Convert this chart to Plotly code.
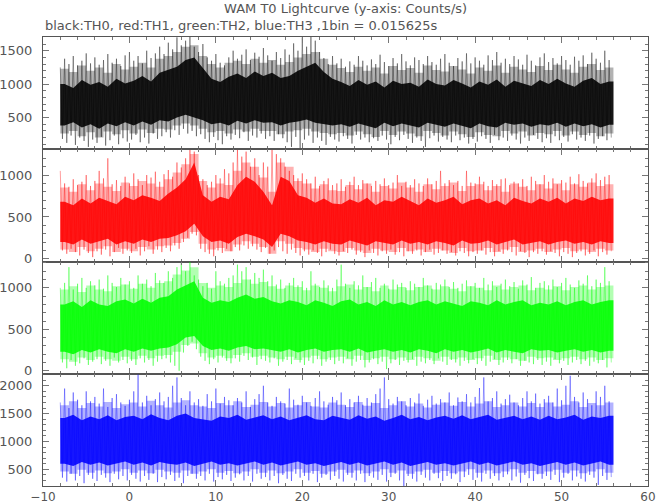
import numpy as np
import plotly.graph_objects as go
from plotly.subplots import make_subplots

# ---------------- data ----------------
T_START = -8.0          # s, first bin
HALO_STEP = 0.5         # s, resolution of the extreme (peak / trough) estimates
CORE_STEP = 1.0         # s, resolution of the core / pale-band estimates

# TH0 (black)
th0_hi = [1250, 1380, 1300, 1420, 1280, 1350, 1460, 1310,
          1400, 1290, 1360, 1450, 1320, 1380, 1270, 1430,
          1480, 1350, 1420, 1310, 1500, 1390, 1460, 1560,
          1450, 1620, 1520, 1700, 1580, 1650, 1720, 1560,
          1480, 1600, 1400, 1350, 1450, 1320, 1280, 1400,
          1500, 1380, 1440, 1520, 1360, 1470, 1410, 1540,
          1430, 1350, 1480, 1390, 1520, 1440, 1610, 1500,
          1700, 1560, 1720, 1650, 1480, 1390, 1300, 1420,
          1310, 1380, 1260, 1340, 1290, 1420, 1350, 1280,
          1370, 1300, 1440, 1330, 1270, 1390, 1310, 1450,
          1340, 1280, 1400, 1360, 1300, 1420, 1330, 1290,
          1380, 1450, 1320, 1270, 1390, 1340, 1460, 1310,
          1400, 1350, 1290, 1430, 1360, 1480, 1320, 1380,
          1300, 1420, 1370, 1290, 1440, 1350, 1280, 1400,
          1460, 1330, 1390, 1310, 1420, 1360, 1290, 1410,
          1350, 1430, 1300, 1470, 1380, 1320, 1500, 1360]
th0_lo = [180, 120, 230, 90, 200, 150, 60, 170,
          120, 210, 80, 160, 230, 100, 190, 140,
          170, 240, 130, 200, 110, 260, 180, 220,
          280, 200, 310, 240, 330, 260, 300, 220,
          250, 180, 130, 210, 160, 100, 220, 170,
          240, 190, 280, 150, 230, 200, 260, 180,
          220, 150, 250, 190, 130, 60, 210, 40,
          170, 230, 120, 200, 150, 90, 210, 170,
          140, 220, 180, 110, 240, 170, 200, 130,
          190, 150, 230, 170, 100, 210, 160, 240,
          180, 120, 200, 150, 60, 190, 230, 140,
          210, 170, 130, 230, 160, 200, 110, 180,
          140, 220, 180, 120, 240, 160, 200, 150,
          230, 170, 110, 200, 150, 240, 180, 130,
          190, 120, 220, 160, 210, 140, 250, 170,
          200, 150, 230, 110, 180, 220, 160, 200]
th0_pale_hi = [1230, 1180, 1280, 1200, 1250, 1170, 1300, 1220,
               1260, 1320, 1250, 1380, 1420, 1480, 1560, 1580,
               1420, 1300, 1250, 1320, 1350, 1300, 1380, 1320,
               1360, 1290, 1330, 1400, 1450, 1480, 1380, 1290,
               1240, 1180, 1260, 1200, 1250, 1160, 1270, 1210,
               1240, 1170, 1280, 1210, 1190, 1270, 1220, 1160,
               1250, 1200, 1280, 1170, 1260, 1220, 1180, 1270,
               1210, 1290, 1220, 1170, 1260, 1300, 1210, 1250]
th0_pale_lo = [260, 300, 220, 280, 200, 290, 250, 310,
               260, 320, 270, 330, 320, 380, 410, 380,
               330, 280, 300, 260, 320, 290, 330, 300,
               300, 250, 290, 310, 330, 290, 270, 250,
               270, 230, 290, 250, 210, 300, 240, 290,
               260, 220, 300, 270, 230, 290, 250, 210,
               280, 240, 220, 300, 260, 290, 230, 270,
               250, 300, 230, 290, 240, 270, 220, 260]
th0_core_hi = [1000, 940, 1060, 990, 1030, 960, 1080, 1010,
               1050, 1120, 1040, 1170, 1210, 1260, 1360, 1400,
               1240, 1080, 1030, 1110, 1160, 1090, 1190, 1120,
               1170, 1090, 1120, 1200, 1260, 1320, 1180, 1080,
               1030, 970, 1060, 990, 1040, 950, 1050, 1000,
               1020, 960, 1070, 1000, 980, 1060, 1010, 950,
               1040, 990, 1070, 960, 1050, 1010, 970, 1060,
               1000, 1080, 1010, 960, 1050, 1090, 1000, 1040]
th0_core_lo = [380, 430, 350, 400, 330, 410, 370, 430,
               380, 440, 390, 460, 440, 500, 540, 500,
               460, 400, 420, 380, 450, 410, 460, 420,
               430, 380, 420, 440, 470, 420, 400, 380,
               400, 360, 410, 380, 340, 420, 370, 410,
               380, 350, 420, 390, 360, 410, 380, 340,
               410, 370, 350, 420, 390, 410, 360, 400,
               380, 420, 360, 410, 370, 400, 350, 390]

# TH1 (red)
th1_hi = [1050, 900, 860, 950, 880, 920, 1000, 870,
          930, 1050, 960, 1200, 890, 940, 870, 980,
          900, 1020, 950, 880, 1000, 970, 1040, 920,
          1010, 1060, 980, 1150, 1090, 1200, 1300, 1280,
          1000, 950, 880, 920, 1000, 960, 1070, 1020,
          1150, 1300, 1220, 1280, 1100, 1200, 1000, 1150,
          1100, 1300, 1250, 1200, 1100, 1050, 1000, 960,
          1020, 950, 900, 980, 870, 930, 960, 880,
          900, 950, 860, 920, 980, 880, 940, 900,
          870, 930, 890, 960, 880, 910, 1000, 870,
          920, 880, 950, 900, 870, 960, 890, 930,
          1050, 900, 940, 880, 930, 870, 1050, 910,
          900, 980, 920, 870, 940, 890, 950, 960,
          880, 920, 900, 950, 870, 980, 930, 890,
          1000, 920, 960, 890, 940, 910, 980, 900,
          1010, 930, 900, 960, 1020, 940, 980, 1000]
th1_lo = [100, 60, 120, 80, 40, 110, 70, 20,
          90, 50, 110, 30, 80, 130, 60, 100,
          70, 120, 40, 90, 150, 60, 110, 80,
          130, 90, 160, 120, 200, 250, 300, 280,
          120, 80, 60, 30, 100, 70, 120, 90,
          140, 100, 160, 120, 150, 110, 80, 130,
          60, 100, 140, 90, 60, 110, 70, 40,
          90, 50, 100, 70, 30, 80, 110, 60,
          40, 90, 70, 110, 50, 80, 20, 100,
          70, 40, 90, 60, 110, 50, 80, 30,
          90, 60, 100, 40, 80, 110, 50, 70,
          100, 60, 80, 40, 90, 70, 30, 80,
          60, 100, 50, 80, 30, 90, 60, 100,
          80, 40, 90, 70, 20, 80, 60, 90,
          50, 90, 70, 30, 80, 60, 20, 70,
          90, 40, 60, 100, 30, 80, 50, 90]
th1_pale_hi = [850, 800, 890, 820, 900, 860, 810, 910,
               870, 930, 900, 860, 950, 1030, 1130, 1250,
               930, 850, 900, 880, 1050, 1150, 1100, 970,
               800, 1150, 1100, 930, 900, 840, 890, 820,
               810, 880, 830, 900, 800, 870, 840, 910,
               850, 800, 890, 830, 870, 910, 810, 870,
               890, 820, 870, 800, 900, 860, 820, 890,
               840, 900, 820, 890, 860, 910, 870, 890]
th1_pale_lo = [110, 80, 140, 90, 120, 150, 80, 120,
               90, 140, 110, 150, 160, 190, 240, 320,
               180, 110, 130, 90, 170, 210, 180, 140,
               60, 210, 180, 130, 110, 80, 120, 90,
               80, 130, 100, 70, 120, 100, 80, 130,
               90, 110, 80, 120, 100, 70, 130, 90,
               100, 130, 80, 110, 140, 80, 100, 120,
               80, 110, 130, 90, 110, 80, 120, 100]
th1_core_hi = [680, 640, 720, 660, 730, 690, 650, 740,
               700, 760, 730, 690, 780, 850, 950, 1150,
               760, 680, 740, 710, 880, 980, 920, 800,
               640, 980, 930, 760, 730, 670, 720, 660,
               650, 710, 670, 730, 640, 700, 680, 740,
               690, 640, 720, 670, 700, 740, 650, 700,
               720, 660, 700, 640, 730, 690, 660, 720,
               680, 730, 660, 720, 690, 740, 700, 720]
th1_core_lo = [200, 170, 230, 180, 210, 240, 170, 210,
               180, 230, 200, 240, 250, 280, 330, 420,
               270, 200, 220, 180, 260, 300, 270, 230,
               140, 300, 270, 220, 200, 170, 210, 180,
               170, 220, 190, 160, 210, 190, 170, 220,
               180, 200, 170, 210, 190, 160, 220, 180,
               190, 220, 170, 200, 230, 170, 190, 210,
               170, 200, 220, 180, 200, 170, 210, 190]

# TH2 (green)
th2_hi = [1000, 1060, 1250, 980, 1050, 1120, 1000, 1080,
          1030, 1100, 990, 1150, 1060, 1010, 1120, 1040,
          1080, 1000, 1150, 1050, 1100, 1020, 1180, 1090,
          1060, 1200, 1120, 1250, 1300, 1200, 1320, 1150,
          1100, 1020, 1060, 990, 1200, 1080, 1050, 1120,
          1150, 1280, 1200, 1250, 1100, 1180, 1120, 1220,
          1080, 1150, 1040, 1100, 1000, 1060, 1120, 1030,
          1080, 1000, 1200, 1050, 1010, 1090, 1030, 1000,
          1100, 1280, 1050, 1000, 1080, 1030, 1150, 1010,
          1070, 1120, 1000, 1050, 990, 1100, 1040, 1060,
          1000, 1080, 1050, 1010, 1120, 1030, 990, 1060,
          1040, 1100, 1010, 1070, 1000, 1050, 1090, 1020,
          1060, 1000, 1120, 1040, 1080, 1010, 1050, 1100,
          1020, 1070, 990, 1090, 1040, 1130, 1000, 1060,
          1080, 1030, 1100, 1010, 1060, 1120, 1040, 1000,
          1090, 1050, 1150, 1020, 1100, 1060, 1250, 1080]
th2_lo = [100, 30, 130, 60, 90, 150, 70, 110,
          140, 80, 120, 60, 160, 100, 130, 90,
          120, 70, 150, 100, 130, 60, 110, 140,
          150, 100, 60, 0, 220, 300, 350, 260,
          170, 120, 80, 140, 100, 160, 120, 90,
          150, 110, 180, 130, 160, 70, 140, 120,
          100, 150, 60, 110, 130, 80, 150, 100,
          70, 120, 90, 140, 60, 110, 130, 80,
          120, 90, 150, 60, 110, 130, 40, 100,
          140, 80, 110, 20, 90, 130, 70, 120,
          100, 140, 60, 110, 90, 130, 80, 150,
          110, 70, 130, 100, 60, 120, 90, 140,
          80, 120, 60, 110, 140, 70, 100, 130,
          90, 140, 60, 120, 100, 80, 130, 70,
          110, 60, 140, 90, 120, 70, 100, 130,
          80, 120, 60, 110, 90, 130, 40, 100]
th2_pale_hi = [980, 1020, 950, 1030, 980, 960, 1020, 1040,
               990, 1050, 1000, 1060, 1080, 1160, 1210, 1250,
               1060, 1000, 1030, 1010, 1060, 1100, 1050, 1070,
               1020, 990, 1030, 1010, 970, 1030, 1000, 960,
               1020, 1040, 980, 1010, 960, 1030, 980, 1010,
               970, 1010, 1030, 980, 1020, 990, 960, 1020,
               1000, 970, 1030, 980, 1010, 1030, 970, 1000,
               980, 1020, 970, 1010, 1030, 980, 1010, 1030]
th2_pale_lo = [140, 110, 160, 130, 170, 140, 120, 170,
               140, 180, 150, 180, 190, 230, 310, 330,
               210, 160, 180, 150, 190, 210, 170, 180,
               160, 140, 170, 130, 160, 180, 140, 160,
               170, 140, 180, 130, 150, 170, 140, 160,
               130, 170, 150, 120, 170, 140, 160, 130,
               150, 180, 130, 160, 140, 120, 170, 150,
               160, 130, 150, 170, 140, 160, 130, 150]
th2_core_hi = [800, 840, 770, 850, 800, 780, 840, 860,
               810, 870, 820, 880, 900, 980, 1030, 1080,
               880, 820, 850, 830, 880, 920, 870, 890,
               840, 810, 850, 830, 790, 850, 820, 780,
               840, 860, 800, 830, 780, 850, 800, 830,
               790, 830, 850, 800, 840, 810, 780, 840,
               820, 790, 850, 800, 830, 850, 790, 820,
               800, 840, 790, 830, 850, 800, 830, 850]
th2_core_lo = [230, 200, 250, 220, 260, 230, 210, 260,
               230, 270, 240, 270, 280, 320, 400, 420,
               300, 250, 270, 240, 280, 300, 260, 270,
               250, 230, 260, 220, 250, 270, 230, 250,
               260, 230, 270, 220, 240, 260, 230, 250,
               220, 260, 240, 210, 260, 230, 250, 220,
               240, 270, 220, 250, 230, 210, 260, 240,
               250, 220, 240, 260, 230, 250, 220, 240]

# TH3 (blue)
th3_hi = [1700, 1950, 1600, 1880, 1750, 1650, 1900, 1720,
          1800, 1680, 1950, 1620, 1780, 1850, 1700, 1640,
          1750, 1900, 2200, 1700, 1820, 1650, 1760, 1880,
          1720, 1800, 2000, 2150, 1780, 1650, 1900, 1700,
          1760, 1640, 1850, 1720, 1950, 1680, 1800, 1740,
          1650, 1780, 1700, 1900, 1620, 1760, 1850, 2000,
          1700, 1640, 1800, 1720, 1680, 1950, 1750, 1660,
          1820, 1700, 1640, 1780, 1900, 1720, 1660, 1800,
          1740, 1880, 1650, 1760, 1700, 1820, 1660, 1780,
          1700, 1850, 1950, 2150, 1760, 1680, 1800, 1720,
          1650, 1780, 1700, 1860, 1640, 1750, 1820, 1680,
          1760, 1700, 1880, 1650, 1790, 1720, 1850, 1700,
          1800, 1960, 2150, 1720, 1780, 1900, 1680, 1760,
          1840, 1700, 1650, 1780, 1900, 1720, 1860, 1680,
          1760, 1820, 1700, 1950, 1740, 2000, 2180, 1800,
          1700, 1880, 1760, 1650, 1900, 1800, 2000, 1720]
th3_lo = [350, 280, 420, 300, 380, 250, 400, 330,
          290, 400, 350, 270, 420, 320, 380, 300,
          400, 330, 280, 380, 310, 420, 270, 360,
          320, 400, 290, 350, 250, 380, 420, 330,
          380, 300, 420, 280, 360, 320, 400, 290,
          350, 410, 300, 380, 280, 420, 330, 360,
          300, 380, 250, 400, 330, 290, 420, 350,
          380, 300, 420, 270, 350, 400, 310, 380,
          330, 280, 400, 350, 300, 420, 270, 380,
          350, 310, 400, 280, 360, 420, 300, 200,
          380, 330, 280, 400, 350, 300, 420, 340,
          290, 380, 330, 410, 270, 360, 400, 310,
          350, 280, 420, 330, 380, 300, 360, 410,
          300, 370, 260, 400, 340, 290, 410, 330,
          380, 310, 400, 270, 350, 420, 300, 370,
          330, 280, 400, 350, 220, 380, 310, 360]
th3_pale_hi = [1650, 1720, 1600, 1690, 1630, 1710, 1600, 1670,
               1700, 1630, 1730, 1650, 1610, 1700, 1740, 1650,
               1630, 1600, 1690, 1650, 1720, 1620, 1660, 1710,
               1630, 1690, 1610, 1650, 1710, 1630, 1610, 1700,
               1660, 1620, 1710, 1640, 1690, 1600, 1650, 1720,
               1630, 1680, 1610, 1660, 1700, 1640, 1710, 1630,
               1680, 1720, 1620, 1650, 1700, 1630, 1690, 1620,
               1700, 1630, 1660, 1720, 1620, 1690, 1650, 1700]
th3_pale_lo = [460, 420, 490, 440, 480, 430, 460, 500,
               440, 480, 430, 490, 460, 440, 480, 420,
               460, 500, 440, 470, 430, 460, 500, 440,
               480, 430, 460, 500, 440, 470, 420, 460,
               490, 440, 480, 430, 460, 500, 440, 480,
               420, 460, 490, 440, 470, 430, 460, 500,
               440, 480, 430, 460, 500, 440, 470, 420,
               460, 490, 440, 480, 430, 460, 500, 440]
th3_core_hi = [1420, 1480, 1380, 1450, 1400, 1470, 1380, 1440,
               1460, 1400, 1490, 1420, 1380, 1460, 1500, 1420,
               1400, 1370, 1450, 1420, 1480, 1390, 1430, 1470,
               1400, 1450, 1380, 1420, 1470, 1400, 1380, 1460,
               1430, 1390, 1470, 1410, 1450, 1370, 1420, 1480,
               1400, 1440, 1380, 1430, 1460, 1410, 1470, 1400,
               1440, 1480, 1390, 1420, 1460, 1400, 1450, 1390,
               1460, 1400, 1430, 1480, 1390, 1450, 1420, 1460]
th3_core_lo = [600, 560, 630, 580, 620, 570, 600, 640,
               580, 620, 570, 630, 600, 580, 620, 560,
               600, 640, 580, 610, 570, 600, 640, 580,
               620, 570, 600, 640, 580, 610, 560, 600,
               630, 580, 620, 570, 600, 640, 580, 620,
               560, 600, 630, 580, 610, 570, 600, 640,
               580, 620, 570, 600, 640, 580, 610, 560,
               600, 630, 580, 620, 570, 600, 640, 580]

y_ranges = [[25, 1705], [-32, 1308], [-36, 1318], [200, 2216]]
y_dticks = [500, 500, 500, 500]
x_tickvals = [-10, 0, 10, 20, 30, 40, 50, 60]

title_text = "WAM T0 Lightcurve (y-axis: Counts/s)"
subtitle_text = "black:TH0, red:TH1, green:TH2, blue:TH3 ,1bin = 0.015625s"

series = [
    (th0_hi, th0_lo, th0_pale_hi, th0_pale_lo, th0_core_hi, th0_core_lo, "0,0,0"),
    (th1_hi, th1_lo, th1_pale_hi, th1_pale_lo, th1_core_hi, th1_core_lo, "255,0,0"),
    (th2_hi, th2_lo, th2_pale_hi, th2_pale_lo, th2_core_hi, th2_core_lo, "0,255,0"),
    (th3_hi, th3_lo, th3_pale_hi, th3_pale_lo, th3_core_hi, th3_core_lo, "0,0,255"),
]

# ---------------- figure ----------------
W, H = 657, 504
fig = make_subplots(rows=4, cols=1, shared_xaxes=True, vertical_spacing=0)

FONT = "DejaVu Sans"
TXT = "#555555"


def band(fig, row, x, lo, hi, color, shape):
    fig.add_trace(go.Scatter(x=x, y=lo, mode="lines", line_shape=shape,
                             line=dict(width=0, color="rgba(0,0,0,0)"),
                             hoverinfo="skip", showlegend=False), row=row, col=1)
    fig.add_trace(go.Scatter(x=x, y=hi, mode="lines", line_shape=shape, fill="tonexty",
                             fillcolor=color,
                             line=dict(width=0, color="rgba(0,0,0,0)"),
                             hoverinfo="skip", showlegend=False), row=row, col=1)


def pad(a):
    a = np.asarray(a, float)
    return np.concatenate([[a[0]], a, [a[-1]]])


for i, (hi, lo, phi, plo, chi, clo, rgb) in enumerate(series, start=1):
    hi = np.asarray(hi, float)
    lo = np.asarray(lo, float)
    n = len(hi)
    t = T_START + HALO_STEP * np.arange(n)
    xs = np.empty(2 * n)
    ys = np.empty(2 * n)
    xs[0::2] = t
    xs[1::2] = t + HALO_STEP / 2
    ys[0::2] = hi
    ys[1::2] = lo

    m = len(chi)
    tc = T_START + CORE_STEP * (np.arange(m) + 0.5)
    t_end = T_START + CORE_STEP * m
    tcx = np.concatenate([[T_START], tc, [t_end]])

    # pale band (sparse single strokes)
    band(fig, i, tcx, pad(plo), pad(phi), f"rgba({rgb},0.30)", "hvh")
    # extreme excursions
    fig.add_trace(go.Scatter(x=xs, y=ys, mode="lines",
                             line=dict(width=1, color=f"rgba({rgb},0.38)"),
                             hoverinfo="skip", showlegend=False), row=i, col=1)
    # dense core
    band(fig, i, tcx, pad(clo), pad(chi), f"rgba({rgb},0.88)", "linear")

axis_common = dict(showline=True, linecolor="#555555", linewidth=1, mirror="allticks",
                   ticks="inside", ticklen=6, tickcolor="#777777", showgrid=False,
                   zeroline=False, automargin=False)

for i in range(1, 5):
    fig.update_yaxes(range=y_ranges[i - 1], dtick=y_dticks[i - 1], tick0=0,
                     minor=dict(ticks="inside", dtick=100, ticklen=3, tickcolor="#777777"),
                     ticklabelstandoff=7, tickfont=dict(family=FONT, size=13, color=TXT),
                     row=i, col=1, **axis_common)
    fig.update_xaxes(range=[-10, 60], tickvals=x_tickvals,
                     minor=dict(ticks="inside", dtick=2, tick0=0, ticklen=3, tickcolor="#777777"),
                     showticklabels=(i == 4), ticklabelstandoff=0,
                     tickfont=dict(family=FONT, size=12, color=TXT),
                     row=i, col=1, **axis_common)

fig.update_layout(
    width=W, height=H,
    margin=dict(l=43, r=9, t=37, b=18, autoexpand=False),
    paper_bgcolor="white", plot_bgcolor="white",
    showlegend=False,
    font=dict(family=FONT, size=13, color=TXT),
    annotations=[
        dict(text=title_text, xref="paper", yref="paper", x=0.5, y=1.0,
             yshift=29, xanchor="center", yanchor="middle", showarrow=False,
             font=dict(family=FONT, size=13, color=TXT)),
        dict(text=subtitle_text, xref="paper", yref="paper", x=0.0, y=1.0,
             yshift=12, xanchor="left", yanchor="middle", showarrow=False,
             font=dict(family=FONT, size=13, color=TXT)),
    ],
)

post = ("document.documentElement.style.margin='0';"
        "document.body.style.margin='0';"
        "document.body.style.padding='0';"
        "document.body.style.overflow='hidden';"
        "var gd=document.getElementById('{plot_id}');"
        "Plotly.relayout(gd,{width:%d,height:%d});" % (W, H))

fig.write_html("out.html", config={"responsive": False, "displayModeBar": False},
               default_width="%dpx" % W, default_height="%dpx" % H,
               post_script=post)
